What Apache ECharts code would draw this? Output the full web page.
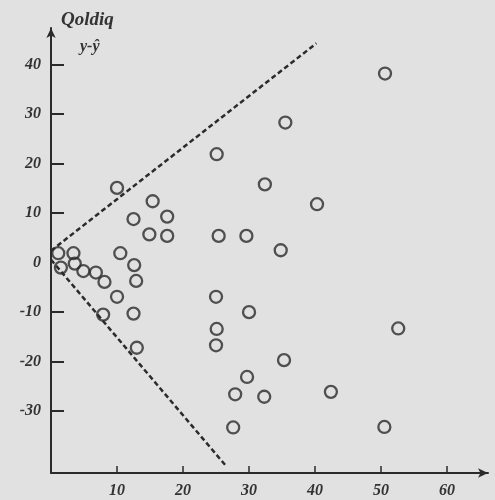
<!DOCTYPE html>
<html>
<head>
<meta charset="utf-8">
<script src="https://cdn.jsdelivr.net/npm/echarts@6/dist/echarts.min.js"></script>
<style>
  html, body { margin: 0; padding: 0; background: #e1e1e1; }
  #chart { width: 495px; height: 500px; }
</style>
</head>
<body>
<div id="chart"></div>
<script>
// qoldiqlar: [x, y - ŷ]
const residuals = [
  [10.0, 15.1], [25.1, 21.9], [15.4, 12.4], [12.5, 8.8], [17.6, 9.3],
  [14.9, 5.7], [17.6, 5.4], [25.4, 5.4], [29.6, 5.4], [1.1, 1.9],
  [3.4, 1.9], [1.5, -1.0], [3.6, -0.2], [4.9, -1.7], [6.8, -2.0],
  [8.1, -3.9], [10.5, 1.9], [12.6, -0.5], [12.9, -3.7], [10.0, -6.9],
  [7.9, -10.5], [12.5, -10.3], [13.0, -17.2], [25.0, -6.9], [25.1, -13.4],
  [25.0, -16.7], [30.0, -10.0], [27.9, -26.6], [27.6, -33.3], [29.7, -23.1],
  [50.6, 38.2], [35.5, 28.3], [32.4, 15.8], [40.3, 11.8], [34.8, 2.5],
  [52.6, -13.3], [35.3, -19.7], [32.3, -27.1], [42.4, -26.1], [50.5, -33.2]
];
// chegara chiziqlari
const upperBound = [[0, 2.4], [40.2, 44.3]];
const lowerBound = [[0, 0.6], [26.4, -40.9]];
const xTicks = [10, 20, 30, 40, 50, 60];
const yTicks = [-30, -20, -10, 0, 10, 20, 30, 40];
const yTickMarks = [-30, -20, -10, 10, 20, 30, 40];

const ink = "#2b2b2b";
const labelFont = {
  color: "#333",
  fontFamily: "Liberation Serif",
  fontStyle: "italic",
  fontWeight: "bold",
  fontSize: 16,
};

const chart = echarts.init(document.getElementById("chart"));
chart.setOption({
  backgroundColor: "#e1e1e1",
  animation: false,
  grid: { left: 51, right: 7, top: 28, bottom: 27 },
  xAxis: {
    type: "value",
    min: 0,
    max: 66.2,
    splitLine: { show: false },
    axisLine: {
      onZero: false,
      symbol: ["none", "arrow"],
      symbolSize: [7, 10],
      lineStyle: { color: ink, width: 2 },
    },
    axisTick: {
      inside: true,
      length: 7,
      customValues: xTicks,
      lineStyle: { color: ink, width: 1.5 },
    },
    axisLabel: Object.assign({ customValues: xTicks, margin: 10 }, labelFont),
  },
  yAxis: {
    type: "value",
    min: -42.5,
    max: 47.4,
    splitLine: { show: false },
    axisLine: {
      onZero: false,
      symbol: ["none", "arrow"],
      symbolSize: [7, 10],
      lineStyle: { color: ink, width: 2 },
    },
    axisTick: {
      inside: true,
      length: 13,
      customValues: yTickMarks,
      lineStyle: { color: ink, width: 2 },
    },
    axisLabel: Object.assign({ customValues: yTicks, margin: 10 }, labelFont),
  },
  graphic: [
    {
      type: "text",
      left: 61,
      top: 11,
      style: Object.assign({ text: "Qoldiq" }, labelFont, { fontSize: 19, fill: "#333" }),
    },
    {
      type: "text",
      left: 80,
      top: 39,
      style: Object.assign({ text: "y-ŷ" }, labelFont, { fontSize: 16, fill: "#333" }),
    },
  ],
  series: [
    {
      type: "line",
      data: upperBound,
      symbol: "none",
      lineStyle: { color: ink, width: 2.5, type: [5, 3] },
    },
    {
      type: "line",
      data: lowerBound,
      symbol: "none",
      lineStyle: { color: ink, width: 2.5, type: [5, 3] },
    },
    {
      type: "scatter",
      data: residuals,
      symbol: "circle",
      symbolSize: 12,
      itemStyle: { color: "transparent", borderColor: ink, borderWidth: 2.3 },
    },
  ],
});
</script>
</body>
</html>
